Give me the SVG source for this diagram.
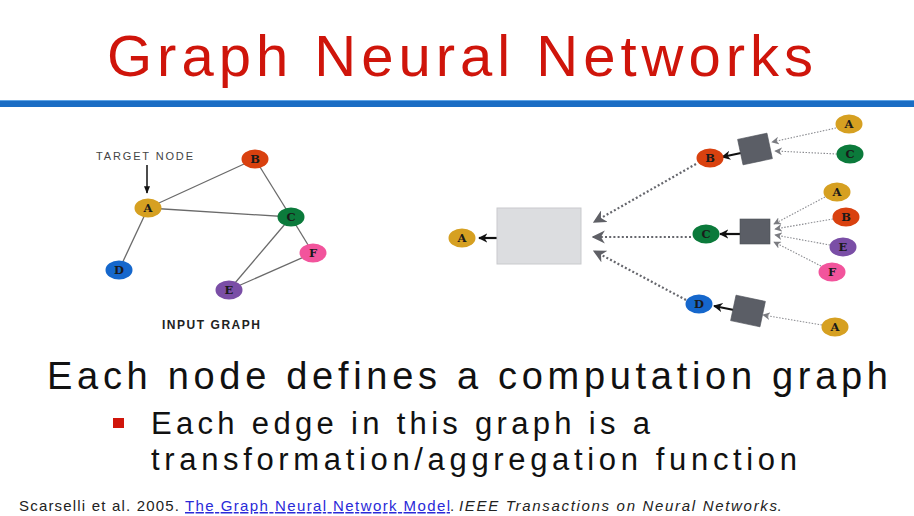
<svg xmlns="http://www.w3.org/2000/svg" width="914" height="516" viewBox="0 0 914 516">
<defs>
<style>
.nd text{font-family:"DejaVu Serif","Liberation Serif",serif;font-weight:bold;font-size:11.5px;fill:#1a1a1a;text-anchor:middle}
.g{stroke:#6a6a6a;stroke-width:1.3;fill:none}
.big{stroke:#66676d;stroke-width:2.2;stroke-dasharray:2 2.2;fill:none}
.thin{stroke:#8a8b90;stroke-width:1.1;stroke-dasharray:1.5 1.5;fill:none}
.blk{stroke:#111;stroke-width:2.2;fill:none}
.sq{fill:#5b5e66;stroke:#4e5158;stroke-width:0.6}
.body{font-family:"Liberation Sans",Arial,sans-serif;fill:#111}
</style>
<marker id="mBig" viewBox="0 0 10 10" refX="9" refY="5" markerWidth="6" markerHeight="6" orient="auto" markerUnits="strokeWidth"><path d="M0,0 L10,5 L0,10 L3,5 z" fill="#5f6066"/></marker>
<marker id="mThin" viewBox="0 0 10 10" refX="9" refY="5" markerWidth="7" markerHeight="7" orient="auto" markerUnits="strokeWidth"><path d="M0,0 L10,5 L0,10 L3,5 z" fill="#7a7b80"/></marker>
<marker id="mBlk" viewBox="0 0 10 10" refX="9" refY="5" markerWidth="4.2" markerHeight="4.2" orient="auto" markerUnits="strokeWidth"><path d="M0,0 L10,5 L0,10 L3,5 z" fill="#111"/></marker>
<marker id="mTgt" viewBox="0 0 10 10" refX="9" refY="5" markerWidth="5" markerHeight="5" orient="auto" markerUnits="strokeWidth"><path d="M0,1 L10,5 L0,9 z" fill="#111"/></marker>
</defs>
<rect width="914" height="516" fill="#ffffff"/>

<g id="title">
<text x="107" y="76" font-family="'Liberation Sans',Arial,sans-serif" font-size="58" fill="#cf150b" textLength="706" lengthAdjust="spacing">Graph Neural Networks</text>
<rect x="0" y="100" width="914" height="7" fill="#1b6dc4"/>
<rect x="0" y="100" width="914" height="1" fill="#5fa3e4"/>
</g>

<g id="connectors">
<line class="g" x1="148" y1="208" x2="255" y2="159"/>
<line class="g" x1="148" y1="208" x2="291" y2="217"/>
<line class="g" x1="148" y1="208" x2="119" y2="270"/>
<line class="g" x1="255" y1="159" x2="291" y2="217"/>
<line class="g" x1="291" y1="217" x2="229" y2="290"/>
<line class="g" x1="291" y1="217" x2="313" y2="253"/>
<line class="g" x1="229" y1="290" x2="313" y2="253"/>
<line stroke="#111" stroke-width="1.5" x1="147" y1="165" x2="147" y2="193" marker-end="url(#mTgt)"/>
<path class="big" d="M696,164 L594,222" marker-end="url(#mBig)"/>
<path class="big" d="M691,237 L593,237" marker-end="url(#mBig)"/>
<path class="big" d="M686,300 L594,251" marker-end="url(#mBig)"/>
<path class="blk" d="M497,238 L479,238" marker-end="url(#mBlk)"/>
<path class="blk" d="M741,153 L722,157" marker-end="url(#mBlk)"/>
<path class="blk" d="M741,234 L720,234" marker-end="url(#mBlk)"/>
<path class="blk" d="M734,310 L714,306" marker-end="url(#mBlk)"/>
<path class="thin" d="M836,128 L772,142" marker-end="url(#mThin)"/>
<path class="thin" d="M837,154 L775,151" marker-end="url(#mThin)"/>
<path class="thin" d="M825,197 L774,224" marker-end="url(#mThin)"/>
<path class="thin" d="M833,219 L775,229" marker-end="url(#mThin)"/>
<path class="thin" d="M830,245 L775,235" marker-end="url(#mThin)"/>
<path class="thin" d="M821,266 L774,242" marker-end="url(#mThin)"/>
<path class="thin" d="M822,325 L763,315" marker-end="url(#mThin)"/>
</g>

<g id="labels" font-family="'Liberation Sans',Arial,sans-serif">
<text x="96" y="160" font-size="11" fill="#444" textLength="97" lengthAdjust="spacing">TARGET NODE</text>
<text x="162" y="329" font-size="12" font-weight="bold" fill="#222" textLength="98" lengthAdjust="spacing">INPUT GRAPH</text>
</g>

<g id="in-A" class="nd"><ellipse cx="148" cy="208" rx="13.5" ry="9.5" fill="#d6a021"/><text x="148" y="212">A</text></g>
<g id="in-B" class="nd"><ellipse cx="255" cy="159" rx="13.5" ry="9.5" fill="#d9410f"/><text x="255" y="163">B</text></g>
<g id="in-C" class="nd"><ellipse cx="291" cy="217" rx="13.5" ry="9.5" fill="#0b7a3b"/><text x="291" y="221">C</text></g>
<g id="in-D" class="nd"><ellipse cx="119" cy="270" rx="13.5" ry="9.5" fill="#1567cc"/><text x="119" y="274">D</text></g>
<g id="in-E" class="nd"><ellipse cx="229" cy="290" rx="13.5" ry="9.5" fill="#7a4ea6"/><text x="229" y="294">E</text></g>
<g id="in-F" class="nd"><ellipse cx="313" cy="253" rx="13.5" ry="9.5" fill="#f2549c"/><text x="313" y="257">F</text></g>

<g id="agg-box"><rect x="497" y="208" width="84" height="56" fill="#dcdde0" stroke="#c9cacd" stroke-width="1"/></g>
<g id="sq-B"><rect class="sq" x="-15" y="-13" width="30" height="26" transform="translate(755,149) rotate(-12)"/></g>
<g id="sq-C"><rect class="sq" x="740" y="219" width="30" height="25"/></g>
<g id="sq-D"><rect class="sq" x="-15" y="-13" width="30" height="26" transform="translate(748,311) rotate(12)"/></g>

<g id="cg-A0" class="nd"><ellipse cx="462" cy="238" rx="13.5" ry="9.5" fill="#d6a021"/><text x="462" y="242">A</text></g>
<g id="cg-B1" class="nd"><ellipse cx="710" cy="158" rx="13.5" ry="9.5" fill="#d9410f"/><text x="710" y="162">B</text></g>
<g id="cg-C1" class="nd"><ellipse cx="706" cy="234" rx="13.5" ry="9.5" fill="#0b7a3b"/><text x="706" y="238">C</text></g>
<g id="cg-D1" class="nd"><ellipse cx="699" cy="304" rx="13.5" ry="9.5" fill="#1567cc"/><text x="699" y="308">D</text></g>
<g id="cg-A2" class="nd"><ellipse cx="849" cy="124" rx="13.5" ry="9.5" fill="#d6a021"/><text x="849" y="128">A</text></g>
<g id="cg-C2" class="nd"><ellipse cx="850" cy="154" rx="13.5" ry="9.5" fill="#0b7a3b"/><text x="850" y="158">C</text></g>
<g id="cg-A3" class="nd"><ellipse cx="837" cy="192" rx="13.5" ry="9.5" fill="#d6a021"/><text x="837" y="196">A</text></g>
<g id="cg-B3" class="nd"><ellipse cx="846" cy="217" rx="13.5" ry="9.5" fill="#d9410f"/><text x="846" y="221">B</text></g>
<g id="cg-E3" class="nd"><ellipse cx="843" cy="247" rx="13.5" ry="9.5" fill="#7a4ea6"/><text x="843" y="251">E</text></g>
<g id="cg-F3" class="nd"><ellipse cx="832" cy="272" rx="13.5" ry="9.5" fill="#f2549c"/><text x="832" y="276">F</text></g>
<g id="cg-A4" class="nd"><ellipse cx="835" cy="327" rx="13.5" ry="9.5" fill="#d6a021"/><text x="835" y="331">A</text></g>

<g id="bullets" class="body">
<text x="47" y="389" font-size="38" textLength="841" lengthAdjust="spacing">Each node defines a computation graph</text>
<rect x="113" y="418" width="11" height="10" fill="#d0150b"/>
<text x="151" y="434" font-size="31" textLength="499" lengthAdjust="spacing">Each edge in this graph is a</text>
<text x="151" y="470" font-size="31" textLength="646" lengthAdjust="spacing">transformation/aggregation function</text>
</g>

<g id="footer" font-family="'Liberation Sans',Arial,sans-serif" font-size="15" fill="#222">
<text x="19" y="511" textLength="160" lengthAdjust="spacing">Scarselli et al. 2005.</text>
<text x="185" y="511" fill="#2a2ad8" text-decoration="underline" textLength="265" lengthAdjust="spacing">The Graph Neural Network Model</text>
<text x="450" y="511">.</text>
<text x="459" y="511" font-style="italic" textLength="318" lengthAdjust="spacing">IEEE Transactions on Neural Networks</text>
<text x="777" y="511">.</text>
</g>
</svg>
